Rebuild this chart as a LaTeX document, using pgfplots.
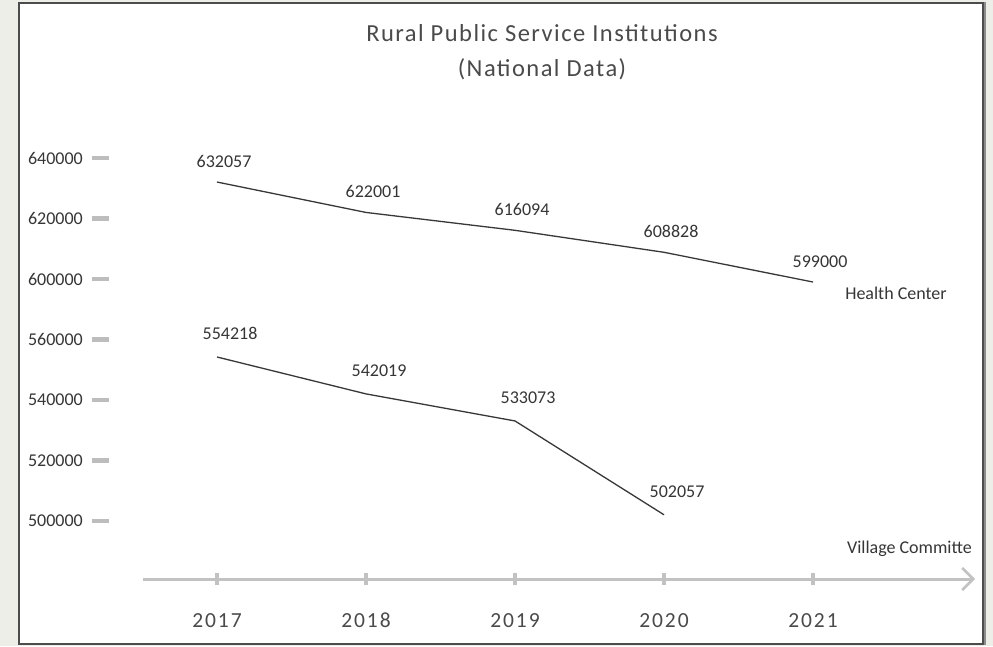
\documentclass[border=0pt]{standalone}
\usepackage{pgfplots}
\pgfplotsset{compat=1.18}
\usepackage{pgfplotstable}
\usetikzlibrary{arrows.meta}
\usepackage{fontspec}
\setmainfont{Carlito}
\newfontfamily\spacedfont[LetterSpace=9]{Carlito}
\newfontfamily\titlefont[LetterSpace=6]{Carlito}
\definecolor{bgout}{HTML}{ECEEE7}
\definecolor{txt}{HTML}{363636}
\definecolor{ttl}{HTML}{4A4A4A}
\definecolor{axgray}{HTML}{C2C2C2}
\definecolor{dashgray}{HTML}{BDBDBD}
\definecolor{linec}{HTML}{383838}
\pgfplotstableread{
x y
2017 632057
2018 622001
2019 616094
2020 608828
2021 599000
}\health
\pgfplotstableread{
x y
2017 554218
2018 542019
2019 533073
2020 502057
}\village
\newcommand{\ydash}{\hspace{9pt}\textcolor{dashgray}{\rule[3.7pt]{17pt}{4.5pt}}}
\begin{document}
\begin{tikzpicture}[x=1pt,y=1pt]
\fill[bgout] (0,0) rectangle (993,646);
\fill[white] (19,2) rectangle (984,643);
\draw[black!45, line width=3pt] (984.5,644) -- (984.5,1);
\draw[black!70, line width=1.2pt] (19,2) rectangle (983,643);
\node[font=\titlefont\fontsize{24.5}{35}\selectfont, text=ttl, align=center] at (542,593.5) {Rural Public Service Institutions\\(National Data)};
\begin{axis}[
  at={(143pt,67pt)}, anchor=south west, scale only axis,
  width=832pt, height=421pt,
  xmin=2016.5034, xmax=2022.0872, ymin=500826, ymax=640000,
  clip=false, scaled y ticks=false, scaled x ticks=false,
  axis x line=bottom, axis y line=left,
  x axis line style={draw=axgray, line width=3pt, -{Straight Barb[length=11pt,width=22pt,line width=2.5pt]}},
  y axis line style={draw=none},
  xtick={2017,2018,2019,2020,2021},
  xticklabels={2017,2018,2019,2020,2021},
  xtick style={draw=axgray, line width=4.5pt},
  major tick length=12pt, tick align=center,
  xticklabel style={font=\spacedfont\fontsize{21.5}{24}\selectfont, text=txt!90, anchor=base, yshift=-42pt},
  ytick={520000,540000,560000,580000,600000,620000,640000},
  yticklabels={500000\ydash,520000\ydash,540000\ydash,560000\ydash,600000\ydash,620000\ydash,640000\ydash},
  ytick style={draw=none},
  yticklabel style={font=\fontsize{18}{22}\selectfont, text=txt, anchor=east, inner sep=0pt, xshift=-28pt},
  nodes near coords,
  point meta=explicit symbolic,
  every node near coord/.append style={font=\fontsize{18}{22}\selectfont, text=txt, anchor=south, inner sep=0pt, xshift=7pt, yshift=14pt},
]
\addplot[linec, line width=1.3pt] table[x=x, y=y, meta=y] {\health};
\addplot[linec, line width=1.3pt, every node near coord/.append style={xshift=6pt, yshift=3pt}] table[x=x, y expr=\thisrow{y}+20000, meta=y] {\village};
\end{axis}
\node[font=\fontsize{18}{22}\selectfont, text=txt] at (896,353) {Health Center};
\node[font=\fontsize{18}{22}\selectfont, text=txt, anchor=east, inner sep=0pt] at (972,97) {Village Committe};
\pgfresetboundingbox
\useasboundingbox (0,0) rectangle (993,646);
\end{tikzpicture}
\end{document}
